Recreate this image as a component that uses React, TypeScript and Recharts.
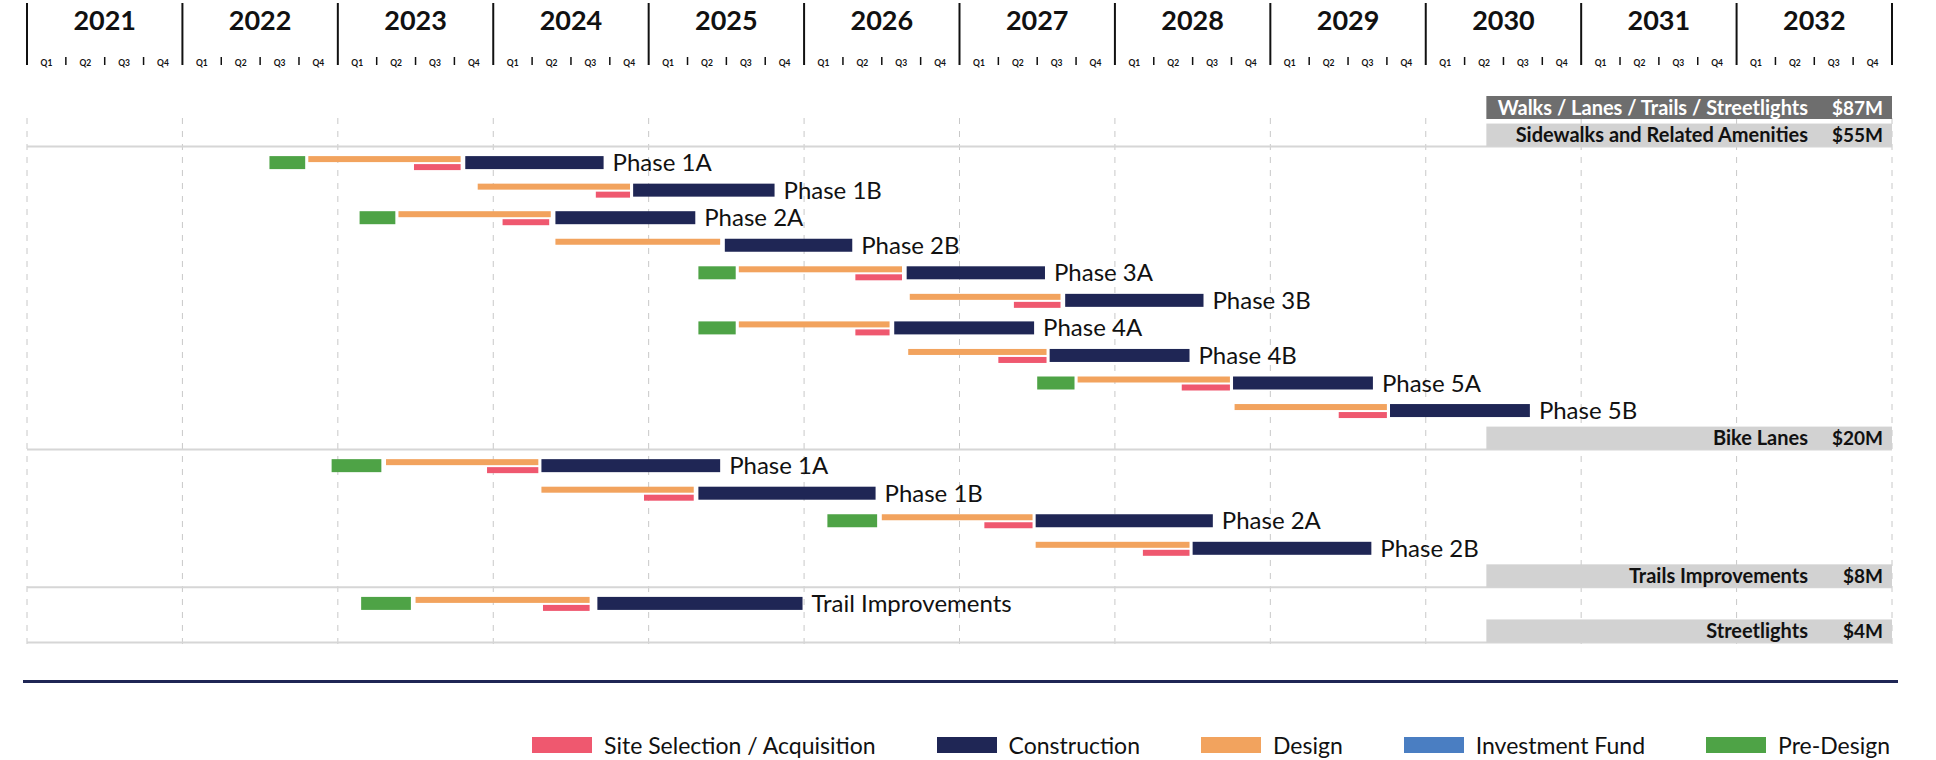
import React from 'react';
import { BarChart, Bar, XAxis, YAxis, CartesianGrid, LabelList } from 'recharts';

// timeline
const years = [2021, 2022, 2023, 2024, 2025, 2026, 2027, 2028, 2029, 2030, 2031, 2032];
const quarterNames = ['Q1', 'Q2', 'Q3', 'Q4'];
const timelineEnd = 2033;

// rows, top to bottom (section headers carry an amount)
const rowIds = ['all', 'sw', 'sw-1a', 'sw-1b', 'sw-2a', 'sw-2b', 'sw-3a', 'sw-3b', 'sw-4a', 'sw-4b', 'sw-5a', 'sw-5b',
  'bl', 'bl-1a', 'bl-1b', 'bl-2a', 'bl-2b', 'tr', 'tr-1', 'sl'];
const rowLabels = ['Walks / Lanes / Trails / Streetlights', 'Sidewalks and Related Amenities',
  'Phase 1A', 'Phase 1B', 'Phase 2A', 'Phase 2B', 'Phase 3A', 'Phase 3B', 'Phase 4A', 'Phase 4B', 'Phase 5A', 'Phase 5B',
  'Bike Lanes', 'Phase 1A', 'Phase 1B', 'Phase 2A', 'Phase 2B',
  'Trails Improvements', 'Trail Improvements', 'Streetlights'];
const headerAmounts = ['$87M', '$55M', null, null, null, null, null, null, null, null, null, null,
  '$20M', null, null, null, null, '$8M', null, '$4M'];
const headerSpan = [2030.39, 2033];

type Span = number[] | null;
const preDesign: Span[] = [null, null,
  [2022.56, 2022.79], null, [2023.14, 2023.37], null, [2025.32, 2025.56], null, [2025.32, 2025.56], null, [2027.5, 2027.74], null,
  null, [2022.96, 2023.28], null, [2026.15, 2026.47], null,
  null, [2023.15, 2023.47], null];
const design: Span[] = [null, null,
  [2022.81, 2023.79], [2023.9, 2024.88], [2023.39, 2024.37], [2024.4, 2025.46], [2025.58, 2026.63],
  [2026.68, 2027.65], [2025.58, 2026.55], [2026.67, 2027.56], [2027.76, 2028.74], [2028.77, 2029.75],
  null, [2023.31, 2024.29], [2024.31, 2025.29], [2026.5, 2027.47], [2027.49, 2028.48],
  null, [2023.5, 2024.62], null];
const siteSelection: Span[] = [null, null,
  [2023.49, 2023.79], [2024.66, 2024.88], [2024.06, 2024.36], null, [2026.33, 2026.63],
  [2027.35, 2027.65], [2026.33, 2026.55], [2027.25, 2027.56], [2028.43, 2028.74], [2029.44, 2029.75],
  null, [2023.96, 2024.29], [2024.97, 2025.29], [2027.16, 2027.47], [2028.18, 2028.48],
  null, [2024.32, 2024.62], null];
const construction: Span[] = [null, null,
  [2023.82, 2024.71], [2024.9, 2025.81], [2024.4, 2025.3], [2025.49, 2026.31], [2026.66, 2027.55],
  [2027.68, 2028.57], [2026.58, 2027.48], [2027.58, 2028.48], [2028.76, 2029.66], [2029.77, 2030.67],
  null, [2024.31, 2025.46], [2025.32, 2026.46], [2027.49, 2028.63], [2028.5, 2029.65],
  null, [2024.67, 2025.99], null];

const legendNames = ['Site Selection / Acquisition', 'Construction', 'Design', 'Investment Fund', 'Pre-Design'];

const COLORS: Record<string, string> = {
  'Site Selection / Acquisition': '#ef586f',
  Construction: '#1f2655',
  Design: '#f2a35e',
  'Investment Fund': '#4a7ec2',
  'Pre-Design': '#4ea346',
};

const FONT = 'Lato, "Open Sans", sans-serif';
const CHART_W = 1936;
const CHART_H = 650;
const M = { top: 0, right: 44, bottom: 5, left: 27 };
const PLOT_W = CHART_W - M.left - M.right;
const YEAR_W = PLOT_W / years.length;
const Q_W = YEAR_W / 4;

const ticks = years.flatMap((y) => [y, y + 0.25, y + 0.5, y + 0.75]).concat(timelineEnd);
const yearTicks = years.concat(timelineEnd);

const data = rowIds.map((id, i) => ({
  id,
  name: rowLabels[i],
  amount: headerAmounts[i],
  total: i === 0,
  header: headerAmounts[i] ? headerSpan : null,
  phase: headerAmounts[i] ? undefined : rowLabels[i],
  pre: preDesign[i],
  design: design[i],
  site: siteSelection[i],
  build: construction[i],
}));

const TimelineTick = (props: any) => {
  const { x, payload } = props;
  const v = payload.value;
  const yr = Math.floor(v + 1e-6);
  const q = Math.round((v - yr) * 4);
  return (
    <g>
      {q === 0
        ? <line x1={x} x2={x} y1={3} y2={65} stroke="#111" strokeWidth={2} />
        : <line x1={x} x2={x} y1={57} y2={65} stroke="#111" strokeWidth={1.5} />}
      {v < timelineEnd && q === 0 && (
        <text x={x + YEAR_W / 2} y={29.5} textAnchor="middle" fontSize={27} fontWeight={700} fill="#111" fontFamily={FONT}>
          {yr}
        </text>
      )}
      {v < timelineEnd && (
        <text x={x + Q_W / 2} y={65.5} textAnchor="middle" fontSize={8.5} fontWeight={700} fill="#111" fontFamily={FONT}>
          {quarterNames[q]}
        </text>
      )}
    </g>
  );
};

const spanShape = (key: string, fill: string) => (p: any) =>
  p.payload && p.payload[key]
    ? <rect x={p.x} y={p.y} width={Math.max(p.width, 0)} height={p.height} fill={fill} />
    : <g />;

const HeaderBox = (p: any) => {
  if (!p.payload || !p.payload.amount) return <g />;
  const { x, y, width, height, payload } = p;
  const dark = payload.total;
  const bx = p.background && isFinite(p.background.x) ? p.background.x : M.left;
  const bw = p.background && isFinite(p.background.width) ? p.background.width : PLOT_W;
  const right = x + width;
  const cy = y + height / 2;
  const color = dark ? '#ffffff' : '#111111';
  return (
    <g>
      {!dark && <line x1={bx} x2={bx + bw} y1={y + height} y2={y + height} stroke="#d6d6d6" strokeWidth={2} />}
      <rect x={x} y={y} width={width} height={height} fill={dark ? '#6e6e6e' : '#d2d2d2'} />
      <text x={right - 84} y={cy} dy={7} textAnchor="end" fontSize={20} fontWeight={700} fill={color} fontFamily={FONT}>
        {payload.name}
      </text>
      <text x={right - 9} y={cy} dy={7} textAnchor="end" fontSize={19} fontWeight={700} fill={color} fontFamily={FONT}>
        {payload.amount}
      </text>
    </g>
  );
};

export default function App() {
  return (
    <div style={{ position: 'absolute', left: 0, top: 0, width: 1936, height: 760, background: '#fff', fontFamily: FONT, overflow: 'hidden' }}>
      <BarChart width={CHART_W} height={CHART_H} data={data} layout="vertical" margin={M} barGap={2}>
        <XAxis xAxisId="t" type="number" orientation="top" domain={[years[0], timelineEnd]} ticks={ticks}
          interval={0} height={94} axisLine={false} tickLine={false} tick={<TimelineTick />} allowDataOverflow />
        <XAxis xAxisId="grid" type="number" orientation="top" domain={[years[0], timelineEnd]} ticks={yearTicks}
          interval={0} hide allowDataOverflow />
        <YAxis yAxisId="main" type="category" dataKey="id" hide />
        <YAxis yAxisId="pre" type="category" dataKey="id" hide />
        <YAxis yAxisId="ds" type="category" dataKey="id" hide />
        <YAxis yAxisId="hdr" type="category" dataKey="id" hide />
        <CartesianGrid xAxisId="grid" yAxisId="main" horizontal={false} stroke="#c8c8c8" strokeDasharray="6 7"
          y={118} height={530} />
        <Bar xAxisId="t" yAxisId="hdr" dataKey="header" barSize={23} shape={HeaderBox} isAnimationActive={false} />
        <Bar xAxisId="t" yAxisId="pre" dataKey="pre" name="Pre-Design" barSize={13}
          shape={spanShape('pre', COLORS['Pre-Design'])} isAnimationActive={false} />
        <Bar xAxisId="t" yAxisId="ds" dataKey="design" name="Design" barSize={6}
          shape={spanShape('design', COLORS.Design)} isAnimationActive={false} />
        <Bar xAxisId="t" yAxisId="ds" dataKey="site" name="Site Selection / Acquisition" barSize={6}
          shape={spanShape('site', COLORS['Site Selection / Acquisition'])} isAnimationActive={false} />
        <Bar xAxisId="t" yAxisId="main" dataKey="build" name="Construction" barSize={13}
          shape={spanShape('build', COLORS.Construction)} isAnimationActive={false}>
          <LabelList dataKey="phase" position="right" offset={9} fill="#111" fontSize={24} fontFamily={FONT} />
        </Bar>
      </BarChart>
      <div style={{ position: 'absolute', left: 23, top: 680, width: 1875, height: 3, background: '#1f2655' }} />
      <div style={{ position: 'absolute', left: 0, top: 733, width: 1890, height: 24, display: 'flex', justifyContent: 'flex-end', alignItems: 'center', gap: 61 }}>
        {legendNames.map((n) => (
          <div key={n} style={{ display: 'flex', alignItems: 'center', gap: 12 }}>
            <div style={{ width: 60, height: 16, background: COLORS[n] }} />
            <span style={{ fontSize: 23, color: '#111' }}>{n}</span>
          </div>
        ))}
      </div>
    </div>
  );
}
